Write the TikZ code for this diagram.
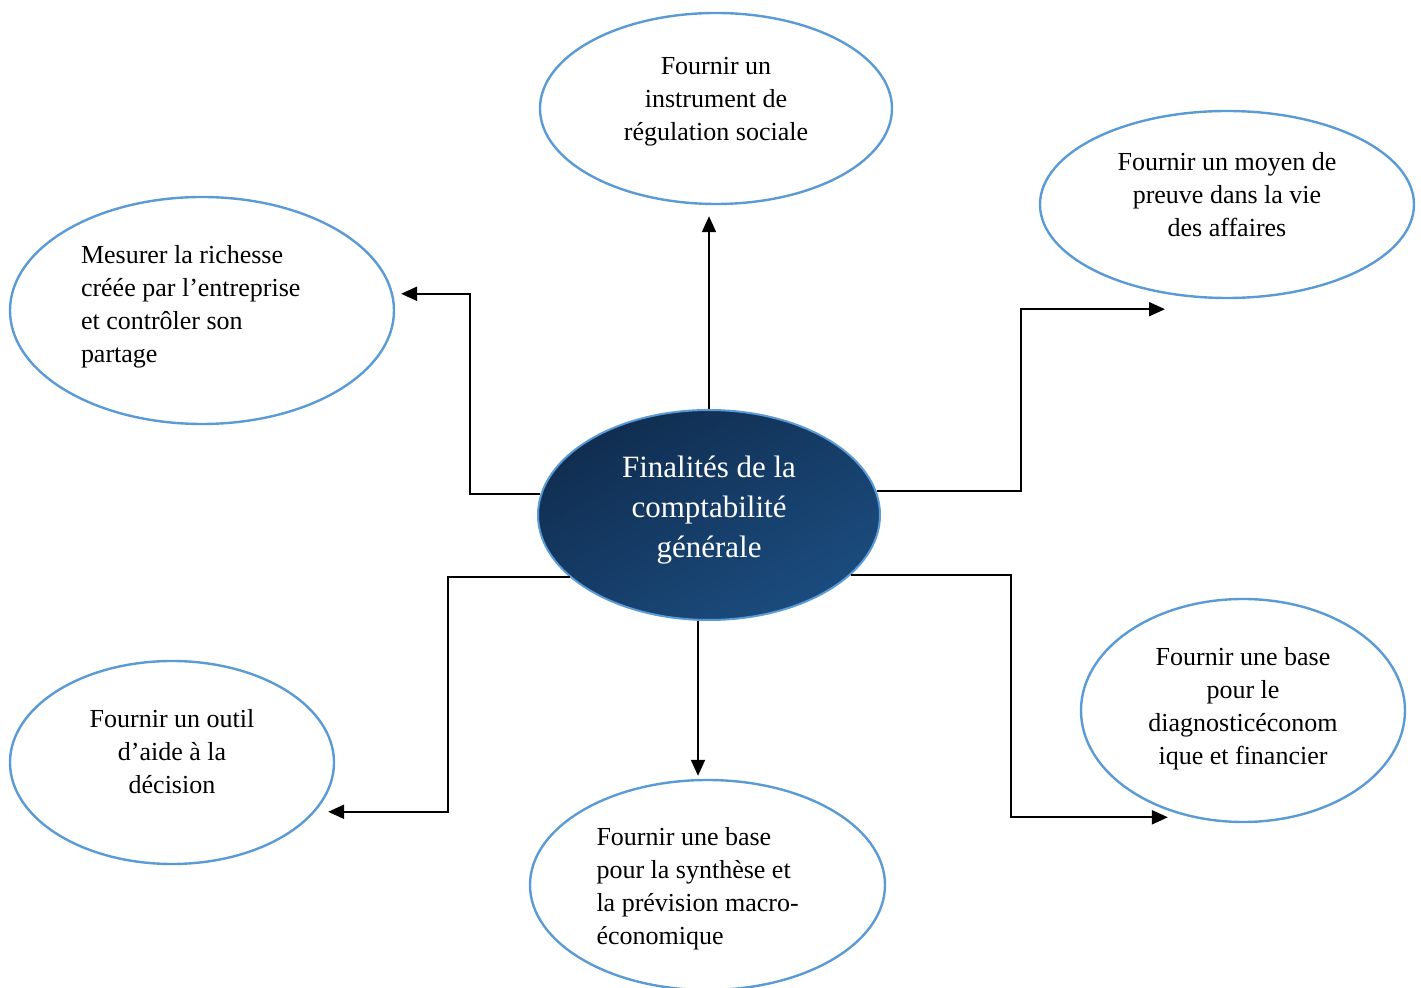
\documentclass[tikz,border=0pt]{standalone}
\usepackage{fontspec}
\setmainfont{Liberation Serif}
\usepackage{xcolor}
\usetikzlibrary{shapes.geometric, arrows.meta}
\definecolor{ovalblue}{RGB}{91,155,213}
\definecolor{navydark}{RGB}{16,45,80}
\definecolor{navylight}{RGB}{27,76,126}
% invisible struts to nudge the text block inside its oval
\newcommand{\downpad}[1]{\rule[-#1]{0pt}{0pt}}
\newcommand{\toppad}[1]{\rule{0pt}{#1}}
\tikzset{
  goal/.style={ellipse, draw=ovalblue, line width=1.2pt, fill=white, inner sep=0pt,
               font=\fontsize{13}{16.5}\selectfont, align=center},
  goalleft/.style={goal, align=flush left},
  core/.style={ellipse, draw=ovalblue, line width=1pt, inner sep=0pt,
               top color=navydark, bottom color=navylight, shading angle=30,
               text=white, font=\fontsize{15.5}{20}\selectfont, align=center},
  arrow/.style={-{Triangle[length=8pt, width=7pt]}, line width=1pt, black},
}
\begin{document}
\begin{tikzpicture}[x=0.5pt, y=-0.5pt]

  \useasboundingbox (0,0) rectangle (1421,988);
  \clip (0,0) rectangle (1421,988);

  % --- Centre ---
  \node[core, minimum width=171pt, minimum height=105pt] (centre) at (709,515)
        {Finalités de la\\ comptabilité\\ générale\downpad{8.4pt}};

  % --- Goals ---
  \node[goal, minimum width=176pt, minimum height=95.5pt] (social) at (716,108.5)
        {Fournir un\\ instrument de\\ régulation sociale\downpad{9.8pt}};
  \node[goal, minimum width=187pt, minimum height=93.5pt] (preuve) at (1227,204.5)
        {Fournir un moyen de\\ preuve dans la vie\\ des affaires\downpad{10pt}};
  \node[goalleft, text width=121pt, minimum width=192pt, minimum height=113.5pt] (richesse) at (202,310.5)
        {Mesurer la richesse\\ créée par l’entreprise\\ et contrôler son\\ partage\downpad{6.8pt}};
  \node[goal, minimum width=162pt, minimum height=101.5pt] (decision) at (172,762.5)
        {Fournir un outil\\ d’aide à la\\ décision\downpad{11pt}};
  \node[goalleft, text width=111pt, minimum width=177.5pt, minimum height=105pt] (synthese) at (707.5,885)
        {\toppad{12.9pt}Fournir une base\\ pour la synthèse et\\ la prévision macro-\\ économique};
  \node[goal, minimum width=162pt, minimum height=111.5pt] (diagnostic) at (1243,710.5)
        {Fournir une base\\ pour le\\ diagnosticéconom\\ ique et financier\downpad{4.8pt}};

  % --- Arrows ---
  \draw[arrow, shorten >=5.5pt] (centre.north) -- (centre.north |- social.south);
  \draw[arrow, shorten >=4pt] (centre.173) -- ++(-70,0) |- (richesse.5);
  \draw[arrow] (centre.8) -- ++(144,0) |- ([xshift=-31pt, yshift=-5pt]preuve.south);
  \draw[arrow, shorten >=6.5pt] (centre.204) -- ++(-122,0) |- (decision.-19);
  \draw[arrow, shorten >=1.5pt] ([xshift=-5.5pt]centre.south) -- ([xshift=-5.5pt]centre.south |- synthese.north);
  \draw[arrow, shorten >=11.5pt] (centre.-23) -- ++(160,0) |- (diagnostic.244);

\end{tikzpicture}
\end{document}
